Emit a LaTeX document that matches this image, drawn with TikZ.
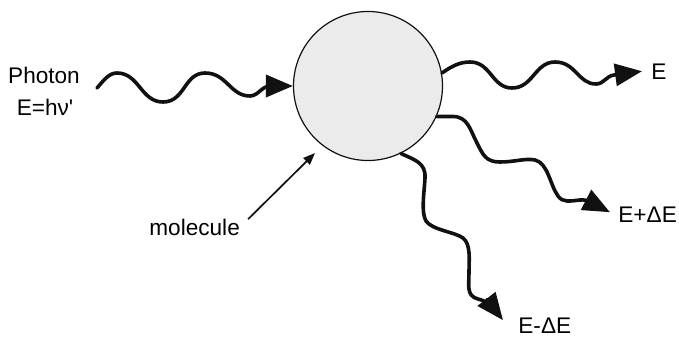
\documentclass[tikz,border=0pt]{standalone}
\usepackage{fontspec}
\newfontfamily\labelfont{Liberation Sans}
\usetikzlibrary{arrows.meta}
\definecolor{molfill}{HTML}{EBEBEB}
\definecolor{inkline}{HTML}{111111}
\begin{document}
\begin{tikzpicture}[x=0.5pt,y=-0.5pt,
  lbl/.style={font=\labelfont\fontsize{11.3}{13}\selectfont, inner sep=0pt, text=black},
  wave/.style={draw=inkline, line width=1.8pt, line cap=round, line join=round,
    -{Triangle[length=13.5pt,width=11pt]}},
  pointer/.style={draw=inkline, line width=0.85pt,
    -{Triangle[length=6pt,width=4.6pt]}},
  ball/.style={circle, draw=inkline, line width=0.6pt, fill=molfill,
    minimum size=74.5pt, inner sep=0pt}]
\useasboundingbox (0,0) rectangle (679,337);

% the molecule
\node[ball] (mol) at (368,86) {};

% labels
\node[lbl, anchor=base] (photon) at (44,83) {Photon};
\node[lbl, anchor=base] (photonE) at (45,115) {E=hν'};
\node[lbl, anchor=base west] (Elbl) at (651,79) {E};
\node[lbl, anchor=base west] (Eplus) at (618,222) {E+ΔE};
\node[lbl, anchor=base west] (Eminus) at (518,333) {E-ΔE};
\node[lbl, anchor=base west] (molecule) at (149,235) {molecule};

% free ends of the connectors
\coordinate (src) at (97,88);
\coordinate (Etip) at ([xshift=-4.5pt]Elbl.west);
\coordinate (Eptip) at ([shift={(-8,-2)}]Eplus.west);
\coordinate (Emtip) at ([shift={(-15,-5)}]Eminus.west);
\coordinate (moltip) at (315,153);

% incoming photon
\draw[wave] (src) .. controls (104,80) and (109,73) .. (117,73)
  .. controls (139,73) and (141,102) .. (163,102)
  .. controls (185,102) and (184,73) .. (205,73)
  .. controls (227,73) and (230,96) .. (250,96)
  .. controls (258,96) and (262,86) .. (270,86) -- (mol.west);

% elastically scattered photon
\draw[wave] (mol.10) .. controls (452,66) and (460,62) .. (470,62)
  .. controls (491,62) and (492,88) .. (512,88)
  .. controls (533,88) and (535,62) .. (555,62)
  .. controls (576,62) and (578,84) .. (596,84)
  .. controls (604,84) and (606,76) .. (614,75) -- (Etip);

% anti-Stokes photon
\draw[wave] (mol.-24) -- (452,116.5)
  .. controls (468,116) and (470,130) .. (477,143)
  .. controls (483,155) and (486,162) .. (500,162)
  .. controls (515,162) and (525,158) .. (535,160)
  .. controls (548,163) and (550,185) .. (558,196)
  .. controls (563,203) and (570,201) .. (580,200)
  .. controls (588,199) and (596,205) .. (Eptip);

% Stokes photon
\draw[wave] (mol.-64) .. controls (415,160) and (426,163) .. (425,178)
  .. controls (424,195) and (421,212) .. (426,221)
  .. controls (432,230) and (455,232) .. (463,238)
  .. controls (471,244) and (469,260) .. (469,272)
  .. controls (469,285) and (466,296) .. (478,299)
  .. controls (486,301) and (492,306) .. (Emtip);

% pointer to the molecule
\draw[pointer, shorten <=5.5pt] (molecule.east) -- (moltip);
\end{tikzpicture}
\end{document}
